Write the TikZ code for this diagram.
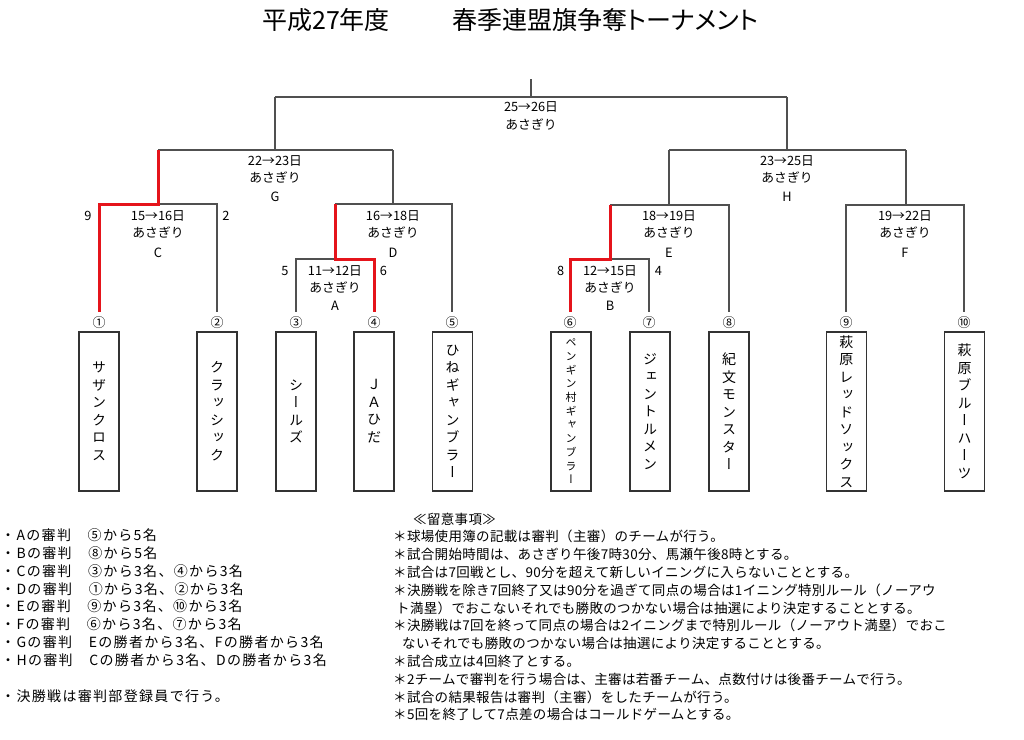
\documentclass[tikz,border=0pt]{standalone}
\usepackage{fontspec}
\setmainfont{Noto Sans CJK JP}
\newfontfamily\vjp[RawFeature=+vert]{Noto Sans CJK JP}
\newfontfamily\ttljp[RawFeature=+palt]{Noto Sans CJK JP}
\newfontfamily\lnotejp[LetterSpace=9.5]{Noto Sans CJK JP}
\newfontfamily\rnotejp[LetterSpace=2.5]{Noto Sans CJK JP}
\definecolor{brgray}{HTML}{505050}
\definecolor{boxgray}{HTML}{333333}
\definecolor{winred}{HTML}{E5141B}
\begin{document}
\begin{tikzpicture}[x=1pt,y=-1pt,
  br/.style={draw=brgray, line width=1.2pt},
  win/.style={draw=winred, line width=3pt, line join=miter},
  team/.style={draw=boxgray, line width=1.4pt, minimum width=40pt, minimum height=159pt,
    inner sep=0pt, align=center, font=\vjp\fontsize{14}{17.5}\selectfont},
  teamsmall/.style={team, font=\vjp\fontsize{11}{13.7}\selectfont},
  num/.style={font=\fontsize{13}{13}\selectfont, inner sep=0pt, outer sep=5pt},
  lbl/.style={font=\fontsize{12.8}{14}\selectfont, inner sep=0pt},
  lnote/.style={anchor=west, inner sep=0pt, font=\lnotejp\fontsize{14}{16}\selectfont},
  rnote/.style={anchor=west, inner sep=0pt, font=\rnotejp\fontsize{13.5}{16}\selectfont},
  ttl/.style={anchor=west, inner sep=0pt, font=\ttljp\fontsize{25}{28}\selectfont}]
\fill[white] (0,0) rectangle (1024,739);
\useasboundingbox (0,0) rectangle (1024,739);

% title
\node[ttl] (title1) at (262,20) {平成27年度};
\node[ttl] (title2) at (452,20) {春季連盟旗争奪トーナメント};

% junctions
\coordinate (top) at (531,79);
\coordinate (Fin) at (531,97);
\coordinate (Gt) at (275,97);  \coordinate (Ht) at (787,97);
\coordinate (Gm) at (275,150); \coordinate (Gl) at (158,150); \coordinate (Gr) at (393,150);
\coordinate (Hm) at (787,150); \coordinate (Hl) at (669,150); \coordinate (Hr) at (906,150);
\coordinate (Cm) at (158,204); \coordinate (Cl) at (99,204);  \coordinate (Cr) at (217,204);
\coordinate (Dm) at (393,204); \coordinate (Dl) at (335,204); \coordinate (Dr) at (452,204);
\coordinate (Em) at (669,205); \coordinate (El) at (610,205); \coordinate (Er) at (729,205);
\coordinate (Fm) at (906,205); \coordinate (Fl) at (846,205); \coordinate (Fr) at (964,205);
\coordinate (Am) at (335,259); \coordinate (Al) at (296,259); \coordinate (Ar) at (374,259);
\coordinate (Bm) at (610,259); \coordinate (Bl) at (570,259); \coordinate (Br) at (649,259);

% seed numbers
\node[num] (n1) at (99,322.7) {①};
\node[num] (n2) at (217,322.7) {②};
\node[num] (n3) at (296,322.7) {③};
\node[num] (n4) at (374,322.7) {④};
\node[num] (n5) at (452,322.7) {⑤};
\node[num] (n6) at (570,322.7) {⑥};
\node[num] (n7) at (649,322.7) {⑦};
\node[num] (n8) at (729,322.7) {⑧};
\node[num] (n9) at (846,322.7) {⑨};
\node[num] (n10) at (964,322.7) {⑩};

% teams
\node[team] (t1) at (99,411.3) {サ\\ザ\\ン\\ク\\ロ\\ス};
\node[team] (t2) at (217,411.3) {ク\\ラ\\ッ\\シ\\ッ\\ク};
\node[team] (t3) at (296,411.3) {シ\\ー\\ル\\ズ};
\node[team] (t4) at (374,411.3) {Ｊ\\Ａ\\ひ\\だ};
\node[team] (t5) at (452.5,411.3) {ひ\\ね\\ギ\\ャ\\ン\\ブ\\ラ\\ー};
\node[teamsmall] (t6) at (571,411.3) {ペ\\ン\\ギ\\ン\\村\\ギ\\ャ\\ン\\ブ\\ラ\\ー};
\node[team] (t7) at (650,411.3) {ジ\\ェ\\ン\\ト\\ル\\メ\\ン};
\node[team] (t8) at (729,411.3) {紀\\文\\モ\\ン\\ス\\タ\\ー};
\node[team] (t9) at (846.3,411.3) {萩\\原\\レ\\ッ\\ド\\ソ\\ッ\\ク\\ス};
\node[team] (t10) at (964.5,411.3) {萩\\原\\ブ\\ル\\ー\\ハ\\ー\\ツ};

% bracket lines
\draw[br] (top) -- (Fin);
\draw[br] (Gt) -- (Ht);
\draw[br] (Gt) -- (Gm);
\draw[br] (Gl) -- (Gr);
\draw[br] (Ht) -- (Hm);
\draw[br] (Hl) -- (Hr);
\draw[br] (Cm) -- (Cr) -- (n2.north);
\draw[br] (Gr) -- (Dm);
\draw[br] (Dl) -- (Dr) -- (n5.north);
\draw[br] (Am) -- (Al) -- (n3.north);
\draw[br] (Hl) -- (Em);
\draw[br] (El) -- (Er) -- (n8.north);
\draw[br] (Bm) -- (Br) -- (n7.north);
\draw[br] (Hr) -- (Fm);
\draw[br] (n9.north) -- (Fl) -- (Fr) -- (n10.north);
% winners
\draw[win] (Gl) -- (Cm) -- (Cl) -- (n1.north);
\draw[win] (Dl) -- (Am) -- (Ar) -- (n4.north);
\draw[win] (El) -- (Bm) -- (Bl) -- (n6.north);

% match labels
\node[lbl] (lf1) at (531,107.3) {25→26日};
\node[lbl] (lf2) at (531,124.3) {あさぎり};
\node[lbl] (lg1) at (275,160.7) {22→23日};
\node[lbl] (lg2) at (275,177.3) {あさぎり};
\node[lbl] (lg3) at (275,197.3) {G};
\node[lbl] (lh1) at (787,160.7) {23→25日};
\node[lbl] (lh2) at (787,177.3) {あさぎり};
\node[lbl] (lh3) at (787,197.3) {H};
\node[lbl] (lc1) at (158,216) {15→16日};
\node[lbl] (lc2) at (158,232.7) {あさぎり};
\node[lbl] (lc3) at (158,252.7) {C};
\node[lbl] (lc4) at (88,216) {9};
\node[lbl] (lc5) at (226,216) {2};
\node[lbl] (ld1) at (393,216) {16→18日};
\node[lbl] (ld2) at (393,232.7) {あさぎり};
\node[lbl] (ld3) at (393,252.7) {D};
\node[lbl] (le1) at (669,216) {18→19日};
\node[lbl] (le2) at (669,232.7) {あさぎり};
\node[lbl] (le3) at (669,252.7) {E};
\node[lbl] (lfF1) at (905,216) {19→22日};
\node[lbl] (lfF2) at (905,232.7) {あさぎり};
\node[lbl] (lfF3) at (905,252.7) {F};
\node[lbl] (la1) at (335,270.7) {11→12日};
\node[lbl] (la2) at (335,287.3) {あさぎり};
\node[lbl] (la3) at (335,305.7) {A};
\node[lbl] (la4) at (285,270.7) {5};
\node[lbl] (la5) at (383.3,270.7) {6};
\node[lbl] (lb1) at (610,270.7) {12→15日};
\node[lbl] (lb2) at (610,287.3) {あさぎり};
\node[lbl] (lb3) at (610,305.7) {B};
\node[lbl] (lb4) at (560.7,270.7) {8};
\node[lbl] (lb5) at (658.3,270.7) {4};

% left notes
\node[lnote] (u1) at (1,535) {・Aの審判　⑤から5名};
\node[lnote] (u2) at (1,552.9) {・Bの審判　⑧から5名};
\node[lnote] (u3) at (1,570.8) {・Cの審判　③から3名、④から3名};
\node[lnote] (u4) at (1,588.7) {・Dの審判　①から3名、②から3名};
\node[lnote] (u5) at (1,606.6) {・Eの審判　⑨から3名、⑩から3名};
\node[lnote] (u6) at (1,624.5) {・Fの審判　⑥から3名、⑦から3名};
\node[lnote] (u7) at (1,642.4) {・Gの審判　Eの勝者から3名、Fの勝者から3名};
\node[lnote] (u8) at (1,660.3) {・Hの審判　Cの勝者から3名、Dの勝者から3名};
\node[lnote] (u9) at (1,696.1) {・決勝戦は審判部登録員で行う。};

% right notes
\node[rnote] (r0) at (413,519) {≪留意事項≫};
\node[rnote] (r1) at (393,536.8) {＊球場使用簿の記載は審判（主審）のチームが行う。};
\node[rnote] (r2) at (393,554.6) {＊試合開始時間は、あさぎり午後7時30分、馬瀬午後8時とする。};
\node[rnote] (r3) at (393,572.4) {＊試合は7回戦とし、90分を超えて新しいイニングに入らないこととする。};
\node[rnote] (r4) at (393,590.2) {＊決勝戦を除き7回終了又は90分を過ぎて同点の場合は1イニング特別ルール（ノーアウ};
\node[rnote] (r5) at (396,608) {ト満塁）でおこないそれでも勝敗のつかない場合は抽選により決定することとする。};
\node[rnote] (r6) at (393,625.8) {＊決勝戦は7回を終って同点の場合は2イニングまで特別ルール（ノーアウト満塁）でおこ};
\node[rnote] (r7) at (402,643.6) {ないそれでも勝敗のつかない場合は抽選により決定することとする。};
\node[rnote] (r8) at (393,661.4) {＊試合成立は4回終了とする。};
\node[rnote] (r9) at (393,679.2) {＊2チームで審判を行う場合は、主審は若番チーム、点数付けは後番チームで行う。};
\node[rnote] (r10) at (393,697) {＊試合の結果報告は審判（主審）をしたチームが行う。};
\node[rnote] (r11) at (393,714.8) {＊5回を終了して7点差の場合はコールドゲームとする。};
\end{tikzpicture}
\end{document}
